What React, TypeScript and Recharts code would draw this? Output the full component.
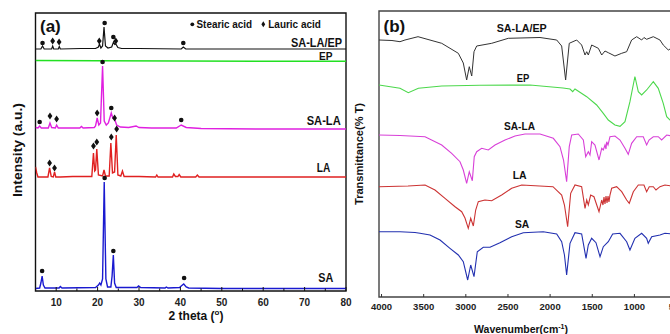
import React from 'react';
import { ComposedChart, Line, Scatter, XAxis, YAxis, ReferenceArea } from 'recharts';

// ---------- Panel (a): XRD, [2theta (deg), intensity (a.u.)] ----------
const xrdSALAEP: number[][] = [[5,242],[6.3,242],[6.7,245],[7.1,242],[8.9,242],[9.15,245],[9.4,242],[10.5,242],[10.75,244.5],[11,242],[16,242.5],[19.5,242.5],[20.2,244],[20.45,247],[20.8,243],[21.2,245],[21.55,264],[21.9,245],[22.5,243],[23.4,244],[23.85,249],[24.15,246.5],[24.4,247],[24.9,243.5],[25.8,242.5],[30,242.5],[40.2,242],[40.7,244],[41.3,242],[60,242],[80,242]];
const xrdEP: number[][] = [[5,230.5],[20,230.2],[40,230],[60,229.8],[80,229.7]];
const xrdSALA: number[][] = [[5,163.5],[5.6,163],[6.0,165],[6.4,163],[8.1,163],[8.5,168],[8.9,163.5],[9.8,163],[10.1,166],[10.5,163],[15.7,163],[16.1,164.5],[16.5,163],[19.2,163.5],[19.5,165],[19.9,173],[20.3,166],[20.7,168],[21.2,225],[21.6,170],[22.1,166],[22.6,168],[23.3,178],[23.7,172.5],[24.1,172],[24.6,166],[25.5,164],[27.5,163.5],[29.3,165],[30,163.5],[33,163],[39,163],[40.2,166],[41.4,163.5],[45,162.5],[60,162],[80,162]];
const xrdLA: number[][] = [[5,124],[5.3,118],[5.6,114],[8.0,114],[8.4,123],[8.8,114.5],[9.3,114],[9.6,119],[9.9,114],[11,114],[14,114.5],[18.6,114.5],[19.0,138],[19.3,120],[19.5,121],[19.8,142],[20.2,116],[21.2,115],[21.55,121],[21.9,115],[22.8,115],[23.2,148],[23.6,118],[24.1,119],[24.5,156],[24.9,116],[25.6,115],[26.0,120],[26.4,114.5],[30,114.5],[34.0,114],[34.3,116],[34.6,114],[38.1,114],[38.4,117],[38.8,114.5],[39.4,114.5],[39.7,116.5],[40.1,114],[43.7,114],[44.1,116],[44.5,114],[55,114],[80,114]];
const xrdSA: number[][] = [[5,2.5],[6.0,3],[6.3,8],[6.6,15],[6.9,6],[7.3,3],[10.7,3],[11.0,4.5],[11.4,3],[19.5,3.5],[20.2,6],[20.5,8],[20.8,6],[21.2,12],[21.6,109],[22.0,12],[22.4,4],[23.2,4],[23.5,15],[23.8,36],[24.1,8],[24.5,3.5],[29.5,3.5],[29.9,5],[30.4,3.5],[36.3,3],[36.6,4],[37,3],[39.8,3.5],[40.2,5],[40.8,7],[41.4,4],[42,3],[50,2.5],[80,2.5]];

// peak markers
const stearicMarks: number[][] = [[6.7,248],[21.7,268],[23.8,254],[40.7,248],[6.0,169],[21.2,229],[23.3,183],[40.2,171],[6.6,20],[21.7,113],[23.8,40],[40.9,13]];
const lauricMarks: number[][] = [[9.15,250],[10.7,249],[20.4,250],[24.4,250],[8.5,175],[10.1,172],[19.9,178],[24.1,173],[8.4,128],[9.6,123],[19.0,145],[19.8,149],[23.3,154],[24.6,162]];

const xTicksA = [5,10,15,20,25,30,35,40,45,50,55,60,65,70,75,80];

// ---------- Panel (b): FTIR, [wavenumber (cm-1), transmittance] ----------
const irSALAEP: number[][] = [[4030,257],[3876,256.5],[3781,255.3],[3722,257],[3567,260.3],[3286,253.7],[3089,243.7],[3030,234],[2990,217],[2959,230.3],[2930,221],[2903,245.3],[2871,251],[2693,253.7],[2496,258.7],[2357,259],[2120,259.5],[1922,257],[1863,251],[1816,217],[1773,253.7],[1685,257],[1626,252],[1586,242],[1566,245.3],[1547,242],[1507,252],[1428,248.7],[1388,242],[1349,246],[1310,244.3],[1231,241],[1151,243.7],[1092,245.3],[1033,257],[973,260.3],[914,257],[887,259.5],[855,257.7],[776,260.3],[697,257],[658,252],[598,247],[554,249]];
const irEP: number[][] = [[4030,212],[3781,208.7],[3682,204.3],[3563,208.7],[3286,211],[2832,211.7],[2239,212],[1847,209],[1764,208],[1732,205.3],[1705,208],[1566,200.3],[1448,192],[1369,183.7],[1310,177],[1231,172],[1171,170.7],[1112,175.3],[1053,195.3],[994,220.5],[954,205.3],[914,202],[855,207],[776,215.3],[717,208.7],[658,193.7],[617,180.3],[578,177],[519,175]];
const irSALA: number[][] = [[4030,162],[3781,161.5],[3484,160.3],[3286,152],[3168,143.7],[3069,135.3],[3030,127],[2990,113.7],[2959,125.3],[2923,116.3],[2900,140.3],[2871,145.3],[2812,148.7],[2733,147],[2654,152],[2535,157],[2417,161],[2298,163],[2120,163],[1962,158.7],[1883,150.3],[1841,137],[1804,115.3],[1773,150.3],[1744,162],[1666,163],[1606,157],[1578,140.3],[1547,145.3],[1527,142],[1507,155.3],[1468,152],[1420,137],[1388,148.7],[1369,147],[1349,152],[1337,148],[1329,155.3],[1313,152],[1290,160.3],[1231,161],[1171,157],[1112,148.7],[1073,142.7],[1033,153.7],[973,160.3],[895,160.3],[855,152],[827,157],[776,160.3],[717,160.3],[677,157],[617,162],[554,161]];
const irLA: number[][] = [[4030,110.3],[3686,111],[3484,112],[3366,107],[3247,98.7],[3128,90.3],[3049,85.3],[3010,79],[2971,68.7],[2942,78.7],[2911,71],[2883,87],[2852,95.3],[2773,97],[2693,96.3],[2575,102],[2456,108.7],[2337,112],[1966,110.3],[1863,102],[1830,92],[1792,70.3],[1756,103.7],[1705,112],[1626,110.3],[1586,88.7],[1566,97],[1547,92],[1519,102],[1480,100.3],[1420,85.3],[1388,97],[1373,92],[1361,100],[1349,93],[1337,101],[1325,94],[1313,101],[1302,95],[1290,102],[1270,108.7],[1211,110.3],[1151,105.3],[1092,97],[1061,93.7],[1013,105.3],[954,112],[887,112],[855,105.3],[824,110.3],[776,110.3],[744,107],[697,110.3],[638,112],[554,111]];
const irSA: number[][] = [[4030,65.3],[3781,65.3],[3603,64.5],[3544,63.7],[3425,62],[3306,57],[3188,48.7],[3089,42],[3030,35.3],[2978,17],[2942,32],[2903,20.3],[2864,45.3],[2793,49.7],[2713,49.7],[2595,54.3],[2456,60.3],[2318,64.3],[2081,65.3],[1922,63],[1863,55.3],[1830,42],[1804,22],[1764,53.7],[1705,64.3],[1626,63],[1574,38.7],[1547,52],[1507,58.7],[1456,54.3],[1408,40.3],[1369,50.3],[1310,55.3],[1258,63],[1171,63.7],[1092,55.3],[1053,47],[994,58.7],[914,63.7],[855,58.7],[836,53.7],[795,60.3],[697,62],[638,63.7],[554,63]];

const xTicksB = [500,1000,1500,2000,2500,3000,3500,4000];

const seriesNames = ['SA-LA/EP', 'EP', 'SA-LA', 'LA', 'SA'];

const pts = (a: number[][]) => a.map(([x, y]) => ({ x, y }));
const FONT = '"Liberation Sans", Arial, sans-serif';

const TickA = (p: any) => {
  const { x, y, payload } = p;
  const v = payload.value;
  const major = v % 10 === 0;
  return (
    <g>
      <line x1={x} x2={x} y1={y} y2={y - (major ? 4 : 2.5)} stroke="#111" strokeWidth={1} />
      {major && (
        <text x={x} y={y + 14.5} textAnchor="middle" fontSize={10} fontWeight="bold" fontFamily={FONT} fill="#222">{v}</text>
      )}
    </g>
  );
};

const TickB = (p: any) => {
  const { x, y, payload } = p;
  return (
    <g>
      <line x1={x} x2={x} y1={y} y2={y - 3} stroke="#333" strokeWidth={1} />
      <text x={x} y={y + 12.5} textAnchor="middle" fontSize={9.5} fontWeight="bold" fontFamily={FONT} fill="#222">{payload.value}</text>
    </g>
  );
};

const DotShape = (p: any) => <circle cx={p.cx} cy={p.cy} r={2.3} fill="#111" />;
const DiamondShape = (p: any) => (
  <polygon points={`${p.cx},${p.cy - 3.4} ${p.cx + 2.4},${p.cy} ${p.cx},${p.cy + 3.4} ${p.cx - 2.4},${p.cy}`} fill="#111" />
);

const L = ({ x, y, size = 13, len, anchor = 'start', rot, children }: any) => (
  <text
    x={x}
    y={y}
    fontSize={size}
    fontWeight="bold"
    fontFamily={FONT}
    fill="#111"
    textAnchor={anchor}
    textLength={len}
    lengthAdjust={len ? 'spacingAndGlyphs' : undefined}
    transform={rot ? `rotate(-90 ${x} ${y})` : undefined}
  >
    {children}
  </text>
);

export default function App() {
  return (
    <div style={{ position: 'absolute', left: 0, top: 0, width: 670, height: 334, overflow: 'hidden', background: '#fff' }}>
      <div style={{ position: 'absolute', left: 0, top: 0 }}>
        <ComposedChart width={360} height={334} margin={{ top: 13, right: 14, bottom: 13, left: 35.5 }}>
          <XAxis dataKey="x" type="number" domain={[5, 80]} ticks={xTicksA} interval={0} allowDataOverflow
            height={30} tickSize={0} tickMargin={0} tickLine={false} axisLine={false} tick={<TickA />} />
          <YAxis type="number" domain={[0, 278]} hide allowDataOverflow />
          <ReferenceArea x1={5} x2={80} y1={0} y2={278} fill="none" stroke="#111" strokeWidth={1.4} fillOpacity={0} ifOverflow="visible" />
          <Line data={pts(xrdSALAEP)} dataKey="y" type="linear" stroke="#111" strokeWidth={1.2} dot={false} isAnimationActive={false} />
          <Line data={pts(xrdEP)} dataKey="y" type="linear" stroke="#22e022" strokeWidth={1.5} dot={false} isAnimationActive={false} />
          <Line data={pts(xrdSALA)} dataKey="y" type="linear" stroke="#e020e0" strokeWidth={1.4} dot={false} isAnimationActive={false} />
          <Line data={pts(xrdLA)} dataKey="y" type="linear" stroke="#e02020" strokeWidth={1.4} dot={false} isAnimationActive={false} />
          <Line data={pts(xrdSA)} dataKey="y" type="linear" stroke="#1a1ad0" strokeWidth={1.4} dot={false} isAnimationActive={false} />
          <Scatter data={pts(stearicMarks)} dataKey="y" shape={DotShape} isAnimationActive={false} />
          <Scatter data={pts(lauricMarks)} dataKey="y" shape={DiamondShape} isAnimationActive={false} />
        </ComposedChart>
      </div>
      <div style={{ position: 'absolute', left: 340, top: 0 }}>
        <ComposedChart width={360} height={334} margin={{ top: 11, right: 0, bottom: 7, left: 39 }}>
          <XAxis dataKey="x" type="number" domain={[222, 4030]} reversed ticks={xTicksB} interval={0} allowDataOverflow
            height={30} tickSize={0} tickMargin={0} tickLine={false} axisLine={false} tick={<TickB />} />
          <YAxis type="number" domain={[0, 286]} hide allowDataOverflow />
          <ReferenceArea x1={222} x2={4030} y1={0} y2={286} fill="none" stroke="#444" strokeWidth={1.4} fillOpacity={0} ifOverflow="visible" />
          <Line data={pts(irSALAEP)} dataKey="y" type="linear" stroke="#333" strokeWidth={1} dot={false} isAnimationActive={false} />
          <Line data={pts(irEP)} dataKey="y" type="linear" stroke="#4cd84c" strokeWidth={1.1} dot={false} isAnimationActive={false} />
          <Line data={pts(irSALA)} dataKey="y" type="linear" stroke="#d840d8" strokeWidth={1.1} dot={false} isAnimationActive={false} />
          <Line data={pts(irLA)} dataKey="y" type="linear" stroke="#cc3333" strokeWidth={1.1} dot={false} isAnimationActive={false} />
          <Line data={pts(irSA)} dataKey="y" type="linear" stroke="#2230b0" strokeWidth={1.1} dot={false} isAnimationActive={false} />
        </ComposedChart>
      </div>
      <svg width={670} height={334} style={{ position: 'absolute', left: 0, top: 0, pointerEvents: 'none' }}>
        {/* panel a annotations */}
        <L x={40} y={32} size={17}>(a)</L>
        <circle cx={192.3} cy={24.3} r={1.9} fill="#111" />
        <L x={196.5} y={28.3} size={11} len={55.5}>Stearic acid</L>
        <polygon points="263.3,21.3 265.2,24.3 263.3,27.3 261.4,24.3" fill="#111" />
        <L x={268.3} y={28.3} size={11} len={52.5}>Lauric acid</L>
        <L x={291} y={46.6} size={13.5} len={51}>{seriesNames[0]}</L>
        <L x={319} y={59.8} size={11.5} len={13.5}>{seriesNames[1]}</L>
        <L x={306.7} y={125} size={13.5} len={34}>{seriesNames[2]}</L>
        <L x={316.7} y={172.3} size={13.5} len={13.5}>{seriesNames[3]}</L>
        <L x={318.3} y={281.7} size={13.5} len={15}>{seriesNames[4]}</L>
        <L x={22} y={150} size={13.5} len={94} anchor="middle" rot>Intensity (a.u.)</L>
        <text x={196} y={320} fontSize={12} fontWeight="bold" fontFamily={FONT} fill="#111" textAnchor="middle">
          2 theta (<tspan fontSize={8} dy={-5}>o</tspan><tspan dy={5}>)</tspan>
        </text>
        {/* panel b annotations */}
        <L x={383.5} y={32} size={17}>(b)</L>
        <L x={496.7} y={31.7} size={11} len={50}>{seriesNames[0]}</L>
        <L x={516.7} y={81.7} size={11} len={12.6}>{seriesNames[1]}</L>
        <L x={504} y={130} size={11} len={31}>{seriesNames[2]}</L>
        <L x={512.7} y={178.5} size={11} len={14}>{seriesNames[3]}</L>
        <L x={515} y={227.7} size={11} len={14.3}>{seriesNames[4]}</L>
        <L x={363} y={154} size={10.5} len={102} anchor="middle" rot>Transmittance(% T)</L>
        <text x={521} y={333} fontSize={10.5} fontWeight="bold" fontFamily={FONT} fill="#111" textAnchor="middle">
          Wavenumber(cm<tspan fontSize={7} dy={-4}>-1</tspan><tspan dy={4}>)</tspan>
        </text>
      </svg>
    </div>
  );
}
